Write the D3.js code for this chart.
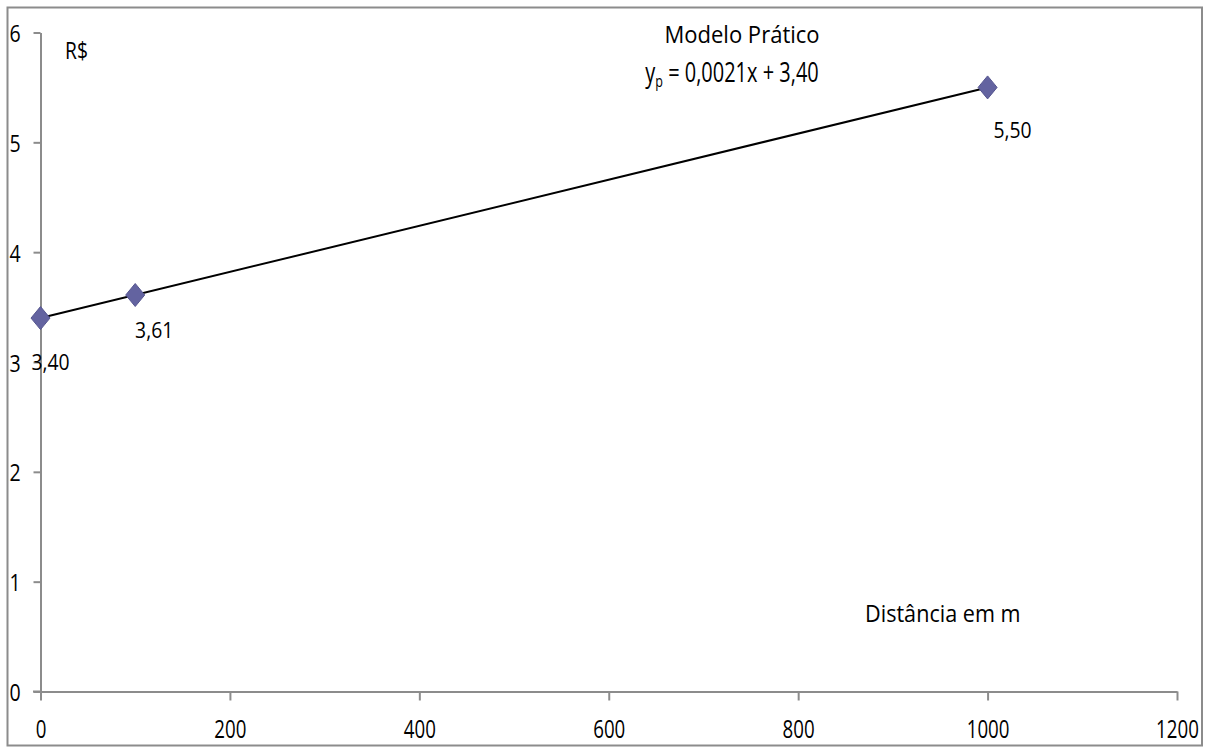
<!DOCTYPE html>
<html><head><meta charset="utf-8">
<script src="https://cdn.jsdelivr.net/npm/d3@7"></script>
<style>
html,body{margin:0;padding:0;background:#fff;}
text{font-family:"Open Sans","Noto Sans",sans-serif;fill:#000;}
</style></head>
<body>
<svg id="c" width="1214" height="747"></svg>
<script>
const distances = [0, 100, 1000];
const prices = [3.40, 3.61, 5.50];
const priceLabels = ["3,40", "3,61", "5,50"];
const xTicks = [0, 200, 400, 600, 800, 1000, 1200];
const yTicks = [0, 1, 2, 3, 4, 5, 6];
const trendSlope = 0.0021, trendIntercept = 3.40;
const trendRange = [0, 1000];
const title = "Modelo Prático";
const yTitle = "R$";
const xTitle = "Distância em m";

const svg = d3.select("#c");
const x = d3.scaleLinear().domain([0, 1200]).range([40.5, 1177]);
const y = d3.scaleLinear().domain([0, 6]).range([691.5, 32.5]);
const axisColor = "#8c8c8c";

function addText(px, py, str, size, sx, anchor) {
  const g = svg.append("g").attr("transform", `translate(${px},${py}) scale(${sx},1)`);
  return g.append("text").attr("font-size", size).attr("text-anchor", anchor || "start").text(str);
}

// outer border
svg.append("rect").attr("x", 7.5).attr("y", 7.5).attr("width", 1194.5).attr("height", 738)
  .attr("fill", "none").attr("stroke", axisColor).attr("stroke-width", 2);

// y axis
const ySx = 0.85;
const ya = svg.append("g").attr("transform", "translate(40.5,0)")
  .call(d3.axisLeft(y).tickValues(yTicks).tickSize(7).tickSizeOuter(0).tickFormat(d3.format("d")));
ya.select(".domain").attr("stroke", axisColor).attr("stroke-width", 2);
ya.selectAll(".tick line").attr("stroke", axisColor).attr("stroke-width", 2);
ya.selectAll(".tick text").attr("x", -31 / ySx).attr("y", 9).attr("dy", null)
  .attr("transform", `scale(${ySx},1)`)
  .attr("text-anchor", "start").attr("font-size", 23)
  .attr("font-family", null).attr("fill", "#000");

// x axis
const xSx = 0.72;
const xa = svg.append("g").attr("transform", "translate(0,691.5)")
  .call(d3.axisBottom(x).tickValues(xTicks).tickSize(9).tickSizeOuter(0).tickFormat(d3.format("d")));
xa.select(".domain").attr("stroke", axisColor).attr("stroke-width", 2);
xa.selectAll(".tick line").attr("stroke", axisColor).attr("stroke-width", 2);
xa.selectAll(".tick text").attr("x", 0).attr("y", 47).attr("dy", null)
  .attr("transform", `scale(${xSx},1)`)
  .attr("font-size", 26).attr("font-family", null).attr("fill", "#000");
svg.append("line").attr("x1", 33).attr("x2", 40.5).attr("y1", 691.5).attr("y2", 691.5)
  .attr("stroke", axisColor).attr("stroke-width", 2);

// trend line
svg.append("line")
  .attr("x1", x(trendRange[0])).attr("y1", y(trendSlope * trendRange[0] + trendIntercept))
  .attr("x2", x(trendRange[1])).attr("y2", y(trendSlope * trendRange[1] + trendIntercept))
  .attr("stroke", "#000").attr("stroke-width", 2);

// markers
const pts = distances.map((d, i) => ({d, p: prices[i], l: priceLabels[i]}));
svg.selectAll("path.m").data(pts).enter().append("path").attr("class", "m")
  .attr("d", "M0,-11.5 L9.5,0 L0,11.5 L-9.5,0 Z")
  .attr("transform", d => `translate(${x(d.d)},${y(d.p)})`)
  .attr("fill", "#6363a0").attr("stroke", "#55558f").attr("stroke-width", 1);

// data labels
const labelOffsets = [[10, 52], [19, 43], [25, 51]];
pts.forEach((d, i) => {
  addText(x(d.d) + labelOffsets[i][0], y(d.p) + labelOffsets[i][1], d.l, 21.5, 0.9, "middle");
});

// titles
addText(742, 43, title, 24.5, 0.9, "middle");
const eq = addText(732, 81.5, "", 27, 0.74, "middle");
eq.append("tspan").text("y");
eq.append("tspan").attr("font-size", 17).attr("dy", 5).text("p");
eq.append("tspan").attr("dy", -5).text(" = 0,0021x + 3,40");
addText(65, 58.5, yTitle, 23.5, 0.82, "start");
addText(865, 621.5, xTitle, 23.5, 0.92, "start");
</script>
</body></html>
